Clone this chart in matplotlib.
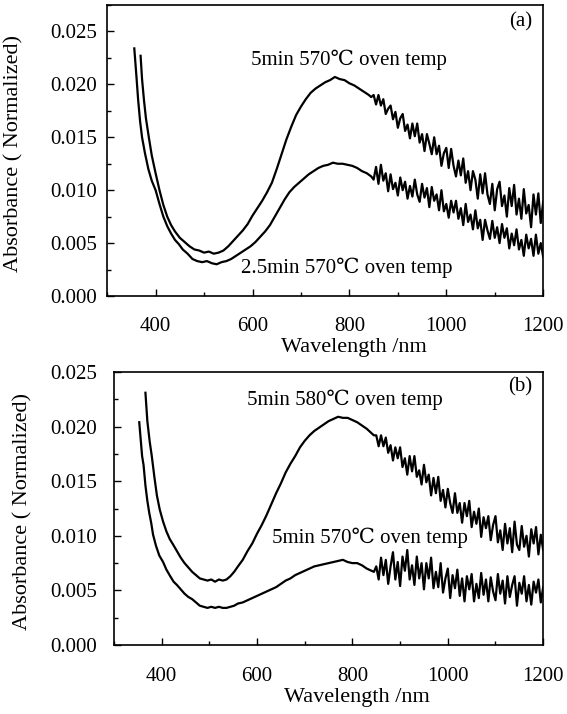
import numpy as np
import matplotlib
matplotlib.use("Agg")
import matplotlib.pyplot as plt
from matplotlib.ticker import MultipleLocator, FormatStrFormatter

# absorbance values are written in units of 1e-3
# shared sampling of the noisy long-wavelength tail (nm)
wl_tail = np.arange(850, 1201, 5)

# panel (a): 5min 570C
wl_a5_head = [369, 372, 376, 380, 386, 392, 400, 408, 416, 424,
              432, 440, 450, 460, 470, 480, 490, 500, 510, 520,
              530, 540, 550, 560, 570, 580, 590, 600, 610, 620,
              630, 640, 650, 660, 670, 680, 690, 700, 710, 720,
              730, 740, 750, 760, 770, 780, 790, 800, 810, 820,
              830, 840, 845]
abs_a5_head = [22.7, 20.5, 18.5, 16.8, 15.0, 13.3, 11.6, 10.0, 8.6, 7.5,
               6.7, 6.1, 5.5, 5.1, 4.7, 4.4, 4.3, 4.1, 4.2, 4.0,
               4.1, 4.3, 4.7, 5.2, 5.7, 6.2, 6.8, 7.6, 8.3, 9.0,
               9.8, 10.7, 12.0, 13.4, 14.8, 16.0, 17.1, 17.9, 18.6, 19.2,
               19.6, 19.9, 20.2, 20.4, 20.7, 20.5, 20.4, 20.1, 19.9, 19.6,
               19.3, 19.0, 18.8]
abs_a5_tail = [19.0, 18.1, 19.0, 18.0, 18.6, 17.2, 17.7, 18.0, 16.7, 17.4,
               15.9, 16.8, 17.2, 15.6, 16.2, 14.9, 16.3, 15.1, 16.3, 14.5,
               15.3, 13.7, 15.3, 14.4, 13.4, 15.0, 13.4, 14.2, 12.3, 13.5,
               14.0, 12.1, 13.9, 12.3, 11.3, 12.8, 11.4, 13.0, 10.7, 11.8,
               10.0, 11.8, 11.0, 9.2, 11.5, 9.7, 11.6, 9.6, 8.7, 10.6,
               8.1, 10.1, 10.8, 8.5, 9.5, 7.5, 10.2, 8.5, 10.5, 7.7,
               9.2, 7.3, 10.1, 7.8, 8.6, 6.5, 9.6, 7.7, 9.7, 6.9,
               8.9]

# panel (a): 2.5min 570C
wl_a25_head = [356, 360, 364, 368, 372, 378, 385, 392, 400, 408,
               416, 424, 432, 440, 448, 456, 466, 476, 486, 496,
               506, 516, 526, 536, 546, 556, 566, 576, 586, 596,
               606, 616, 626, 636, 646, 656, 666, 676, 686, 696,
               706, 716, 726, 736, 746, 756, 766, 776, 786, 796,
               806, 816, 826, 836, 845]
abs_a25_head = [23.4, 21.0, 18.5, 16.5, 15.0, 13.5, 12.0, 10.9, 10.0, 8.7,
                7.5, 6.6, 5.9, 5.3, 4.9, 4.4, 4.0, 3.5, 3.3, 3.2,
                3.3, 3.1, 3.0, 3.2, 3.3, 3.5, 3.8, 4.1, 4.4, 4.7,
                5.1, 5.6, 6.1, 6.7, 7.5, 8.3, 9.1, 9.8, 10.3, 10.7,
                11.1, 11.5, 11.8, 12.1, 12.3, 12.4, 12.6, 12.5, 12.5, 12.4,
                12.3, 12.1, 11.8, 11.6, 11.3]
abs_a25_tail = [11.0, 12.2, 10.6, 12.4, 10.9, 11.6, 9.9, 11.5, 10.1, 10.7,
                9.5, 11.2, 10.0, 10.8, 9.2, 10.4, 9.4, 11.0, 9.6, 8.9,
                10.6, 9.3, 10.2, 8.4, 10.3, 9.0, 9.6, 8.1, 10.0, 8.0,
                8.7, 7.4, 9.0, 7.9, 9.0, 7.3, 8.3, 6.7, 8.7, 7.0,
                7.7, 6.3, 8.1, 6.4, 7.2, 5.3, 7.2, 6.2, 5.4, 7.1,
                5.5, 6.5, 5.0, 6.8, 5.5, 6.4, 4.5, 5.9, 4.8, 6.3,
                4.4, 5.3, 3.8, 5.8, 4.5, 5.4, 3.8, 5.8, 4.0, 5.0,
                3.7]

# panel (b): 5min 580C
wl_b580_head = [366, 370, 375, 379, 385, 390, 396, 403, 410, 417,
                424, 432, 440, 448, 456, 464, 472, 480, 488, 496,
                504, 512, 520, 528, 536, 544, 552, 560, 570, 580,
                590, 600, 610, 620, 630, 640, 650, 660, 670, 680,
                690, 700, 710, 720, 730, 740, 750, 760, 770, 780,
                790, 800, 810, 820, 830, 840, 845]
abs_b580_head = [23.1, 20.5, 18.6, 17.4, 15.3, 13.7, 12.4, 11.3, 10.4, 9.7,
                 9.2, 8.6, 8.0, 7.5, 7.1, 6.7, 6.4, 6.1, 6.0, 5.9,
                 6.0, 5.8, 6.0, 5.9, 6.0, 6.3, 6.7, 7.2, 7.8, 8.6,
                 9.3, 10.2, 11.0, 11.9, 12.9, 13.9, 14.8, 15.8, 16.6, 17.3,
                 18.1, 18.7, 19.2, 19.6, 19.9, 20.2, 20.5, 20.7, 20.9, 20.8,
                 20.8, 20.6, 20.4, 20.1, 19.8, 19.4, 19.2]
abs_b580_tail = [19.2, 18.2, 19.2, 18.2, 19.0, 17.6, 18.3, 16.9, 18.1, 17.1,
                 18.1, 16.3, 17.1, 15.6, 17.3, 15.9, 17.3, 15.4, 16.0, 14.7,
                 16.5, 14.9, 15.6, 13.7, 15.3, 13.9, 15.4, 13.2, 14.2, 12.6,
                 14.3, 13.0, 12.1, 13.9, 12.1, 13.0, 11.2, 13.0, 11.8, 13.2,
                 10.8, 12.2, 11.1, 12.5, 9.9, 11.7, 10.7, 11.8, 9.6, 11.0,
                 11.8, 9.4, 10.5, 8.7, 11.1, 9.3, 10.7, 8.5, 11.3, 9.2,
                 8.7, 10.9, 9.0, 10.0, 8.1, 10.6, 9.3, 10.8, 8.3, 10.1,
                 8.7]

# panel (b): 5min 570C
wl_b570_head = [353, 356, 359, 362, 366, 370, 374, 378, 382, 388,
                395, 403, 410, 418, 425, 432, 440, 448, 456, 464,
                472, 480, 488, 496, 504, 512, 520, 528, 536, 544,
                552, 560, 570, 580, 590, 600, 610, 620, 630, 640,
                650, 660, 670, 680, 690, 700, 710, 720, 730, 740,
                750, 760, 770, 780, 790, 800, 810, 820, 830, 840,
                845]
abs_b570_head = [20.4, 18.8, 17.3, 16.5, 14.6, 13.2, 12.1, 11.2, 10.1, 9.1,
                 8.2, 7.6, 6.9, 6.3, 5.8, 5.5, 5.1, 4.7, 4.4, 4.2,
                 3.9, 3.6, 3.5, 3.4, 3.5, 3.4, 3.5, 3.4, 3.4, 3.5,
                 3.6, 3.8, 3.9, 4.1, 4.3, 4.5, 4.7, 4.9, 5.1, 5.3,
                 5.6, 5.9, 6.1, 6.4, 6.6, 6.8, 7.0, 7.2, 7.3, 7.4,
                 7.5, 7.6, 7.7, 7.8, 7.6, 7.5, 7.5, 7.3, 7.0, 6.8,
                 6.7]
abs_b570_tail = [7.2, 6.0, 8.0, 6.4, 7.8, 5.6, 7.2, 8.5, 6.0, 7.6,
                 5.4, 8.1, 6.8, 8.7, 6.0, 7.3, 5.5, 8.1, 6.1, 7.5,
                 5.1, 7.5, 6.1, 8.0, 5.2, 6.7, 5.3, 7.5, 4.8, 6.1,
                 7.0, 4.3, 6.4, 5.2, 6.9, 4.5, 6.1, 4.0, 6.3, 5.1,
                 6.5, 4.0, 5.6, 4.3, 6.6, 4.6, 6.0, 4.0, 6.2, 4.9,
                 4.1, 6.5, 4.7, 5.9, 3.8, 6.3, 4.4, 5.5, 6.3, 3.6,
                 5.7, 4.7, 6.3, 4.0, 5.5, 3.7, 5.8, 4.8, 6.0, 3.9,
                 5.3]

x_ticks = [400, 600, 800, 1000, 1200]
y_ticks = [0.000, 0.005, 0.010, 0.015, 0.020, 0.025]

FAMILY = ["Liberation Serif", "DejaVu Serif", "DejaVu Sans"]
plt.rcParams["font.family"] = FAMILY


def series(wl_head, abs_head, abs_tail):
    wl = np.concatenate([wl_head, wl_tail])
    absorb = np.concatenate([abs_head, abs_tail]) * 1e-3
    return wl, absorb


def style_axes(ax, ymax, ylab_x, xlab_y, xpad, ypad):
    ax.set_xlim(300, 1200)
    ax.set_ylim(0, ymax)
    ax.set_xticks(x_ticks)
    ax.set_yticks(y_ticks)
    ax.xaxis.set_minor_locator(MultipleLocator(100))
    ax.yaxis.set_minor_locator(MultipleLocator(0.0025))
    ax.yaxis.set_major_formatter(FormatStrFormatter("%.3f"))
    ax.tick_params(which="both", direction="in", top=False, right=False,
                   width=1.0)
    ax.tick_params(which="major", length=5, labelsize=15)
    ax.tick_params(which="minor", length=3)
    ax.tick_params(axis="x", which="major", pad=xpad)
    ax.tick_params(axis="y", which="major", pad=ypad)
    for sp in ax.spines.values():
        sp.set_linewidth(1.2)
    ax.set_xlabel("Wavelength /nm", fontsize=16, va="top")
    ax.set_ylabel("Absorbance ( Normalized)", fontsize=16)
    ax.xaxis.set_label_coords(0.565, xlab_y)
    ax.yaxis.set_label_coords(ylab_x, 0.49)


fig = plt.figure(figsize=(5.67, 7.14), dpi=100)

ax_a = fig.add_axes([0.189, 0.5854, 0.769, 0.4076])
ax_b = fig.add_axes([0.201, 0.0966, 0.757, 0.3824])

# panel (a)
wl, a = series(wl_a5_head, abs_a5_head, abs_a5_tail)
ax_a.plot(wl, a, color="black", linewidth=1.6)
wl, a = series(wl_a25_head, abs_a25_head, abs_a25_tail)
ax_a.plot(wl, a, color="black", linewidth=1.6)

style_axes(ax_a, 0.0275, -0.193, -0.145, 15, 7)
ax_a.text(597, 0.0223, "5min 570\u2103 oven temp", fontsize=15,
          ha="left", va="center", family=FAMILY)
ax_a.text(576, 0.00265, "2.5min 570\u2103 oven temp", fontsize=15,
          ha="left", va="center", family=FAMILY)
ax_a.text(1154, 0.0259, "(a)", fontsize=15, ha="center", va="center")

# panel (b)
wl, a = series(wl_b580_head, abs_b580_head, abs_b580_tail)
ax_b.plot(wl, a, color="black", linewidth=1.6)
wl, a = series(wl_b570_head, abs_b570_head, abs_b570_tail)
ax_b.plot(wl, a, color="black", linewidth=1.6)

style_axes(ax_b, 0.025, -0.191, -0.158, 16, 12)
ax_b.text(579, 0.0225, "5min 580\u2103 oven temp", fontsize=15,
          ha="left", va="center", family=FAMILY)
ax_b.text(631, 0.0098, "5min 570\u2103 oven temp", fontsize=15,
          ha="left", va="center", family=FAMILY)
ax_b.text(1152, 0.0236, "(b)", fontsize=15, ha="center", va="center")

fig.savefig("out.png", dpi=100)
plt.close(fig)
